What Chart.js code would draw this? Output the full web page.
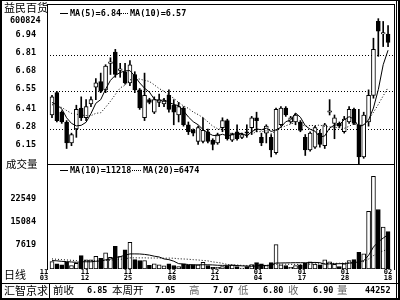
<!DOCTYPE html>
<html><head><meta charset="utf-8">
<script src="https://cdn.jsdelivr.net/npm/chart.js@4/dist/chart.umd.min.js"></script>
<style>
html,body{margin:0;padding:0;background:#fff;}
#wrap{position:relative;width:400px;height:300px;overflow:hidden;background:#fff;}
canvas{position:absolute;left:0;}
.ln{position:absolute;background:#000;}
.t{position:absolute;white-space:nowrap;color:#000;line-height:1;}
.m{font-family:'DejaVu Sans Mono',monospace;font-weight:bold;font-size:8.5px;}
.c{font-family:'Noto Sans CJK SC',sans-serif;font-size:10.5px;}
.g{color:#666;}
.sol{display:inline-block;width:8px;border-top:1px solid #000;vertical-align:middle;margin-right:2px;}
.dot{display:inline-block;width:9px;border-top:1px dotted #000;vertical-align:middle;margin-right:2px;}
</style></head><body>
<div id="wrap">
<canvas id="pc" width="400" height="164" style="top:0;width:400px;height:164px"></canvas>
<canvas id="vc" width="400" height="118" style="top:164px;width:400px;height:118px"></canvas>

<div class="ln" style="left:0;top:0;width:2px;height:300px"></div>
<div class="ln" style="left:0;top:0;width:400px;height:1px"></div>
<div class="ln" style="left:396px;top:0;width:1px;height:300px"></div>
<div class="ln" style="left:398px;top:0;width:2px;height:300px"></div>
<div class="ln" style="left:0;top:298px;width:400px;height:2px"></div>
<div class="ln" style="left:0;top:283px;width:400px;height:1px"></div>
<div class="ln" style="left:49px;top:283px;width:1px;height:15px"></div>
<div class="ln" style="left:47px;top:4px;width:1px;height:266px"></div>
<div class="ln" style="left:394px;top:4px;width:1px;height:266px"></div>
<div class="ln" style="left:47px;top:4px;width:348px;height:1px"></div>
<div class="ln" style="left:47px;top:164px;width:348px;height:1px"></div>

<div class="t c" style="left:4px;top:2px;font-size:11px">益民百货</div>
<div class="t m" style="left:10px;top:16px">600824</div>
<div class="t m" style="left:60px;top:9px"><span class="sol"></span>MA(5)=6.84</div>
<div class="t m" style="left:119px;top:9px"><span class="dot"></span>MA(10)=6.57</div>

<div class="t c" style="left:6px;top:159px">成交量</div>
<div class="t m" style="left:60px;top:166px"><span class="sol"></span>MA(10)=11218</div>
<div class="t m" style="left:132px;top:166px"><span class="dot"></span>MA(20)=6474</div>

<div class="t c" style="left:4px;top:269px;font-size:11px">日线</div>

<div class="t c" style="left:4px;top:285px;font-size:11px">汇智京求</div>
<div class="t c" style="left:53px;top:285px">前收</div>
<div class="t m" style="left:87px;top:286px">6.85</div>
<div class="t c" style="left:112px;top:285px">本周开</div>
<div class="t m" style="left:155px;top:286px">7.05</div>
<div class="t c g" style="left:189px;top:285px">高</div>
<div class="t m" style="left:213px;top:286px">7.07</div>
<div class="t c g" style="left:238px;top:285px">低</div>
<div class="t m" style="left:263px;top:286px">6.80</div>
<div class="t c g" style="left:288px;top:285px">收</div>
<div class="t m" style="left:313px;top:286px">6.90</div>
<div class="t c g" style="left:337px;top:285px">量</div>
<div class="t m" style="left:365px;top:286px">44252</div>
</div>
<script>
// ---- data ----
const openP  = [6.38,6.54,6.40,6.33,6.18,6.28,6.43,6.36,6.46,6.58,6.62,6.56,6.75,6.83,6.70,6.69,6.61,6.67,6.56,6.36,
                6.49,6.40,6.47,6.46,6.52,6.45,6.38,6.43,6.31,6.27,6.19,6.19,6.26,6.20,6.18,6.29,6.34,6.20,6.26,6.22,
                6.26,6.29,6.36,6.22,6.25,6.22,6.11,6.31,6.43,6.33,6.33,6.33,6.22,6.13,6.15,6.25,6.16,6.40,6.32,6.32,
                6.26,6.33,6.42,6.31,6.08,6.33,6.52,7.05,6.96,6.96];
const highP  = [6.52,6.55,6.41,6.34,6.25,6.45,6.51,6.49,6.51,6.64,6.68,6.74,6.79,6.85,6.75,6.75,6.77,6.69,6.57,6.68,
                6.50,6.51,6.53,6.50,6.56,6.49,6.47,6.44,6.33,6.28,6.30,6.36,6.28,6.21,6.25,6.36,6.35,6.25,6.31,6.25,
                6.31,6.37,6.40,6.25,6.31,6.24,6.43,6.44,6.44,6.37,6.39,6.34,6.24,6.26,6.30,6.27,6.32,6.49,6.38,6.33,
                6.37,6.44,6.43,6.42,6.40,6.56,6.93,7.07,7.05,7.02];
const lowP   = [6.36,6.33,6.32,6.14,6.16,6.22,6.34,6.34,6.44,6.49,6.54,6.54,6.67,6.65,6.65,6.60,6.59,6.54,6.42,6.34,
                6.46,6.39,6.44,6.44,6.40,6.31,6.33,6.30,6.24,6.23,6.17,6.18,6.18,6.13,6.17,6.26,6.20,6.19,6.20,6.21,
                6.22,6.24,6.26,6.16,6.18,6.08,6.10,6.30,6.37,6.32,6.31,6.26,6.09,6.12,6.14,6.15,6.14,6.38,6.21,6.29,
                6.25,6.32,6.31,6.03,6.07,6.30,6.50,6.80,6.87,6.87];
const closeP = [6.51,6.34,6.33,6.18,6.24,6.42,6.36,6.44,6.49,6.61,6.55,6.73,6.76,6.67,6.71,6.61,6.74,6.56,6.43,6.52,
                6.47,6.49,6.49,6.48,6.42,6.40,6.44,6.31,6.26,6.25,6.29,6.27,6.19,6.17,6.24,6.34,6.21,6.24,6.21,6.24,
                6.25,6.36,6.34,6.18,6.30,6.13,6.42,6.43,6.38,6.36,6.38,6.27,6.13,6.25,6.29,6.17,6.31,6.41,6.36,6.30,
                6.35,6.42,6.32,6.08,6.38,6.52,6.85,6.98,6.97,6.90];
const volume = [2430,1680,1360,2200,1140,1880,4380,2980,2980,4160,3510,5250,3840,7400,4060,6230,8700,3080,2760,2760,
                1230,1690,1360,1030,1690,1140,780,1690,1230,1470,1360,2200,1140,580,580,780,1140,1360,780,300,
                780,1470,2090,1690,1140,2090,7950,1360,1140,580,1100,1400,1900,2300,1600,1350,3000,2300,1550,800,
                1690,2760,3080,5450,4930,18760,30200,19400,13700,12200];
// closes / volumes just before the first visible day (estimated, for the moving averages at the left edge)
const priorCloses = [6.42,6.45,6.40,6.44,6.48,6.43,6.47,6.50,6.44];
const priorVolumes = [4200,3600,4500,3100,3900,4300,3500,3800,3700,3800,2600,3100,2900,2500,3000,2700,2800,3200,2370];

const priceTicks = [6.94,6.81,6.68,6.55,6.41,6.28,6.15];
const priceTickLabels = ['6.94','6.81','6.68','6.55','6.41','6.28','6.15'];
const priceGridValues = [6.81,6.55,6.28];
const volTicks = [22549,15084,7619];
const dateLabels = [['11','03'],['11','12'],['11','25'],['12','08'],['12','21'],['01','04'],['01','17'],['01','28'],['02','18']];
const datePos = [-1.64,6.78,15.6,24.64,33.47,42.3,51.33,60.16,69.0];

// ---- derived ----
function movingAvg(prior, vals, n){
  const all = prior.concat(vals), off = prior.length, out = [];
  for(let i=0;i<vals.length;i++){
    const end = off+i; let s=0, c=0;
    for(let k=end-n+1;k<=end;k++){ if(k>=0){s+=all[k];c++;} }
    out.push({x:i, y:s/c});
  }
  return out;
}
const up = closeP.map((c,i)=>c>=openP[i]);
const wicks = closeP.map((c,i)=>({x:i, y:[lowP[i], highP[i]]}));
const bodies = closeP.map((c,i)=>({x:i, y:[openP[i], c]}));
const volBars = volume.map((v,i)=>({x:i, y:v}));
const fillCol = up.map(u=>u?'#fff':'#000');

const XMIN = -1.027, XMAX = 70.22;
const xScale = {type:'linear', display:false, offset:false, bounds:'data', grace:0, min:XMIN, max:XMAX,
  afterDataLimits(s){ s.min=XMIN; s.max=XMAX; },
  afterBuildTicks(s){ s.ticks=[{value:XMIN},{value:XMAX}]; }};
const tickFont = {family:'DejaVu Sans Mono', weight:'bold', size:8.5};
const common = {responsive:false, animation:false, devicePixelRatio:1, events:[],
  plugins:{legend:{display:false}, tooltip:{enabled:false}}};

const gridPlugin = {id:'dotgrid', beforeDatasetsDraw(chart){
  const ctx=chart.ctx, a=chart.chartArea, ys=chart.scales.y;
  ctx.save(); ctx.strokeStyle='#000'; ctx.lineWidth=1; ctx.setLineDash([1,2]);
  priceGridValues.forEach(v=>{ const y=Math.round(ys.getPixelForValue(v))+0.5;
    ctx.beginPath(); ctx.moveTo(a.left,y); ctx.lineTo(a.right,y); ctx.stroke(); });
  ctx.restore();
}};

new Chart(document.getElementById('pc'), {
  type:'bar',
  data:{datasets:[
    {type:'bar', data:wicks, backgroundColor:'#000', borderWidth:0, barThickness:1, grouped:false, order:3},
    {type:'bar', data:bodies, backgroundColor:fillCol, borderColor:'#000', borderWidth:1, borderSkipped:false,
     barThickness:4, grouped:false, minBarLength:1, order:2},
    {type:'line', data:movingAvg(priorCloses, closeP, 5), borderColor:'#000', borderWidth:1, pointRadius:0, order:1},
    {type:'line', data:movingAvg(priorCloses, closeP, 10), borderColor:'#000', borderWidth:1, borderDash:[1,2], pointRadius:0, order:0}
  ]},
  options:{...common, layout:{padding:{left:0,right:6,top:4,bottom:0}},
    scales:{
      x:xScale,
      y:{type:'linear', bounds:'data', min:6.029, max:7.175,
        afterFit(s){ s.width=47; s.paddingTop=0; s.paddingBottom=0; },
        afterBuildTicks(s){ s.ticks = priceTicks.map(v=>({value:v})); },
        ticks:{callback:(v,i)=>priceTickLabels[i], padding:3, font:tickFont, color:'#000', labelOffset:-2},
        grid:{display:false}, border:{display:false}}
    }},
  plugins:[gridPlugin]
});

const datePlugin = {id:'dates', afterDraw(chart){
  const ctx=chart.ctx, xs=chart.scales.x;
  ctx.save(); ctx.fillStyle='#000'; ctx.font='bold 7px "DejaVu Sans Mono"';
  ctx.textAlign='center'; ctx.textBaseline='middle';
  dateLabels.forEach((l,k)=>{ const x=xs.getPixelForValue(datePos[k]);
    ctx.fillText(l[0], x, 108.5); ctx.fillText(l[1], x, 114); });
  ctx.restore();
}};

new Chart(document.getElementById('vc'), {
  type:'bar',
  data:{datasets:[
    {type:'bar', data:volBars, backgroundColor:fillCol, borderColor:'#000', borderWidth:1, borderSkipped:false,
     barThickness:4, grouped:false, order:2},
    {type:'line', data:movingAvg(priorVolumes, volume, 10), borderColor:'#000', borderWidth:1, pointRadius:0, order:1},
    {type:'line', data:movingAvg(priorVolumes, volume, 20), borderColor:'#000', borderWidth:1, borderDash:[1,2], pointRadius:0, order:0}
  ]},
  options:{...common, layout:{padding:{left:0,right:6,top:0,bottom:13}},
    scales:{
      x:xScale,
      y:{type:'linear', bounds:'data', min:0, max:34230,
        afterFit(s){ s.width=47; s.paddingTop=0; s.paddingBottom=0; },
        afterBuildTicks(s){ s.ticks = volTicks.map(v=>({value:v})); },
        ticks:{callback:v=>String(v), padding:3, font:tickFont, color:'#000', labelOffset:-1},
        grid:{display:false}, border:{display:false}}
    }},
  plugins:[datePlugin]
});
</script>
</body></html>
